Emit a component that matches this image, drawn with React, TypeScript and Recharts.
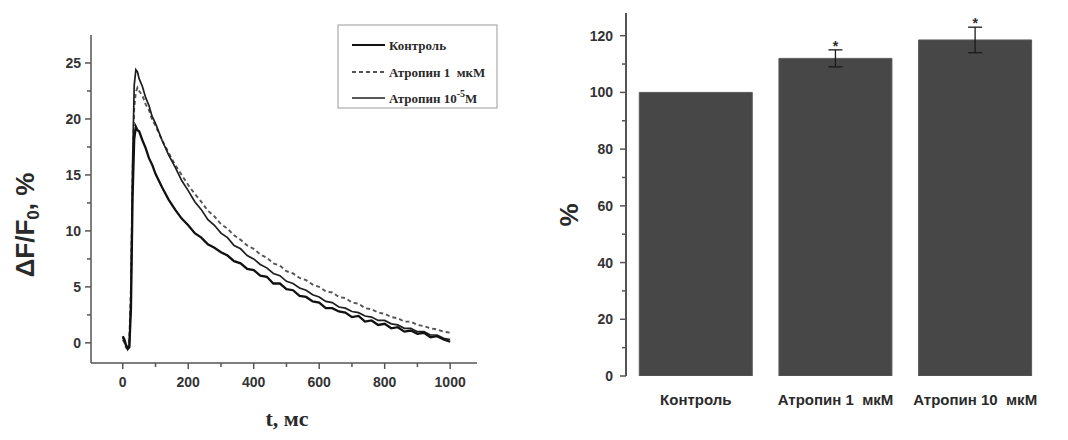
import React from 'react';
import {
  LineChart,
  Line,
  XAxis,
  YAxis,
  ComposedChart,
  Bar,
  ErrorBar,
  Scatter,
} from 'recharts';

// ---- Fluorescence transients, ΔF/F0 (%) vs time (ms) ----
const timeMs = [
  0, 5, 10, 15, 20, 25, 30, 35, 40, 45, 50, 60, 70, 80, 90, 100,
  120, 140, 160, 180, 200, 220, 240, 260, 280, 300, 320, 340, 360, 380, 400,
  420, 440, 460, 480, 500, 520, 540, 560, 580, 600, 620, 640, 660, 680, 700,
  720, 740, 760, 780, 800, 820, 840, 860, 880, 900, 920, 940, 960, 980, 1000,
];

const control = [
  0.6, 0.3, -0.2, -0.5, -0.4, 3.0, 13.0, 18.2, 19.3, 19.0, 18.9, 18.1, 17.4, 16.5, 15.9, 15.1,
  13.9, 12.8, 11.9, 11.1, 10.5, 9.8, 9.4, 8.8, 8.5, 8.1, 7.8, 7.3, 7.1, 6.6, 6.5,
  6.0, 5.9, 5.3, 5.3, 4.8, 4.7, 4.2, 4.1, 3.7, 3.6, 3.1, 3.1, 2.8, 2.7, 2.3,
  2.4, 1.9, 2.0, 1.6, 1.7, 1.3, 1.4, 1.0, 1.1, 0.8, 0.9, 0.5, 0.6, 0.3, 0.1,
];

const atropine1uM = [
  0.3, 0.0, -0.4, -0.3, 0.2, 5.0, 15.0, 21.0, 22.4, 22.8, 22.5, 22.1, 21.3, 20.8, 19.9, 19.4,
  18.1, 17.0, 15.9, 15.0, 14.1, 13.3, 12.6, 11.8, 11.3, 10.6, 10.2, 9.6, 9.2, 8.7, 8.4,
  7.9, 7.6, 7.1, 6.9, 6.4, 6.2, 5.8, 5.6, 5.2, 5.0, 4.6, 4.5, 4.1, 4.0, 3.6,
  3.5, 3.1, 3.0, 2.7, 2.6, 2.3, 2.2, 1.9, 1.9, 1.6, 1.5, 1.3, 1.2, 1.0, 0.9,
];

const atropine10uM = [
  0.5, 0.2, -0.3, -0.6, -0.3, 4.0, 16.0, 23.0, 24.4, 24.2, 23.6, 22.9, 21.9, 21.2, 20.2, 19.6,
  18.1, 16.8, 15.7, 14.5, 13.6, 12.6, 11.9, 11.0, 10.5, 9.8, 9.4, 8.7, 8.4, 7.8, 7.5,
  7.0, 6.7, 6.2, 6.0, 5.5, 5.3, 4.9, 4.7, 4.3, 4.1, 3.7, 3.6, 3.2, 3.1, 2.8,
  2.7, 2.4, 2.3, 2.0, 2.0, 1.7, 1.6, 1.3, 1.3, 1.0, 1.0, 0.7, 0.7, 0.4, 0.3,
];

const timeTicks = [0, 100, 200, 300, 400, 500, 600, 700, 800, 900, 1000];
const dfTicks = [0, 2.5, 5, 7.5, 10, 12.5, 15, 17.5, 20, 22.5, 25];

// ---- Amplitude relative to control (%) ----
const groups = ['Контроль', 'Атропин 1  мкМ', 'Атропин 10  мкМ'];
const percent = [100, 112, 118.5];
const percentErr = [0, 3, 4.5];
const significant = [false, true, true];
const percentTicks = [0, 10, 20, 30, 40, 50, 60, 70, 80, 90, 100, 110, 120];

const traceRows = timeMs.map((t, i) => ({
  t,
  control: control[i],
  a1: atropine1uM[i],
  a10: atropine10uM[i],
}));

const barRows = groups.map((name, i) => ({
  name,
  pct: percent[i],
  err: percentErr[i],
  star: significant[i] ? percent[i] + percentErr[i] : null,
}));

const SANS = 'Arial, "Liberation Sans", sans-serif';
const SERIF = '"Times New Roman", "Liberation Serif", serif';
const AXIS = '#555';
const INK = '#2a2a2a';

const TimeTick = (props: any) => {
  const { x, y, payload } = props;
  const major = payload.value % 200 === 0;
  return (
    <g>
      <line x1={x} x2={x} y1={y} y2={y + (major ? 6 : 4)} stroke={AXIS} strokeWidth={1.5} />
      {major && (
        <text x={x} y={y + 24} textAnchor="middle" fontFamily={SANS} fontWeight="bold" fontSize={14} fill="#333">
          {payload.value}
        </text>
      )}
    </g>
  );
};

const DfTick = (props: any) => {
  const { x, y, payload } = props;
  const major = payload.value % 5 === 0;
  return (
    <g>
      <line x1={x - (major ? 6 : 4)} x2={x} y1={y} y2={y} stroke={AXIS} strokeWidth={1.5} />
      {major && (
        <text x={x - 10} y={y + 5} textAnchor="end" fontFamily={SANS} fontWeight="bold" fontSize={14} fill="#333">
          {payload.value}
        </text>
      )}
    </g>
  );
};

const PercentTick = (props: any) => {
  const { x, y, payload } = props;
  const major = payload.value % 20 === 0;
  return (
    <g>
      <line x1={x - (major ? 6 : 4)} x2={x} y1={y} y2={y} stroke={AXIS} strokeWidth={1.5} />
      {major && (
        <text x={x - 13} y={y + 5} textAnchor="end" fontFamily={SANS} fontWeight="bold" fontSize={14} fill="#333">
          {payload.value}
        </text>
      )}
    </g>
  );
};

const GroupTick = (props: any) => {
  const { x, y, payload } = props;
  return (
    <text x={x} y={y + 29} textAnchor="middle" fontFamily={SANS} fontWeight="bold" fontSize={15} fill={INK} style={{ whiteSpace: 'pre' }}>
      {payload.value}
    </text>
  );
};

const Star = (props: any) => {
  const { cx, cy, payload } = props;
  if (payload == null || payload.star == null || cy == null) return <g />;
  return (
    <text x={cx} y={cy + 1} textAnchor="middle" fontFamily={SANS} fontWeight="bold" fontSize={14} fill={INK}>
      *
    </text>
  );
};

export default function App() {
  return (
    <div style={{ position: 'absolute', left: 0, top: 0, width: 1068, height: 440, background: '#fff' }}>
      <div style={{ position: 'absolute', left: 0, top: 0 }}>
        <LineChart
          width={520}
          height={440}
          data={traceRows}
          margin={{ top: 35, right: 43, bottom: 47, left: 41 }}
        >
          <XAxis
            type="number"
            dataKey="t"
            domain={[-97, 1082]}
            ticks={timeTicks}
            allowDataOverflow
            height={30}
            tickSize={0}
            tickMargin={0}
            tickLine={false}
            axisLine={{ stroke: AXIS, strokeWidth: 1.5 }}
            tick={<TimeTick />}
            interval={0}
          />
          <YAxis
            type="number"
            domain={[-1.8, 27.5]}
            ticks={dfTicks}
            allowDataOverflow
            width={50}
            tickSize={0}
            tickMargin={0}
            tickLine={false}
            axisLine={{ stroke: AXIS, strokeWidth: 1.5 }}
            tick={<DfTick />}
            interval={0}
          />
          <Line
            type="linear"
            dataKey="a1"
            stroke="#555"
            strokeWidth={1.9}
            strokeDasharray="4 3"
            dot={false}
            isAnimationActive={false}
          />
          <Line
            type="linear"
            dataKey="a10"
            stroke="#1e1e1e"
            strokeWidth={1.7}
            dot={false}
            isAnimationActive={false}
          />
          <Line
            type="linear"
            dataKey="control"
            stroke="#111"
            strokeWidth={2.3}
            dot={false}
            isAnimationActive={false}
          />
        </LineChart>
      </div>

      <div style={{ position: 'absolute', left: 540, top: 0 }}>
        <ComposedChart
          width={528}
          height={440}
          data={barRows}
          margin={{ top: 13, right: 23, bottom: 34, left: 36 }}
          barCategoryGap="9.5%"
        >
          <XAxis
            type="category"
            dataKey="name"
            height={30}
            axisLine={false}
            tickLine={false}
            tickSize={0}
            tickMargin={0}
            tick={<GroupTick />}
            interval={0}
          />
          <YAxis
            type="number"
            domain={[0, 128]}
            ticks={percentTicks}
            allowDataOverflow
            width={50}
            tickSize={0}
            tickMargin={0}
            tickLine={false}
            axisLine={{ stroke: AXIS, strokeWidth: 2 }}
            tick={<PercentTick />}
            interval={0}
          />
          <Bar dataKey="pct" fill="#474747" stroke="#5a5a5a" strokeWidth={1} isAnimationActive={false}>
            <ErrorBar dataKey="err" width={7} stroke="#1a1a1a" strokeWidth={1.3} />
          </Bar>
          <Scatter dataKey="star" shape={<Star />} isAnimationActive={false} />
        </ComposedChart>
      </div>

      <svg
        width={1068}
        height={440}
        style={{ position: 'absolute', left: 0, top: 0, pointerEvents: 'none' }}
      >
        {/* left axis titles */}
        <text
          transform="translate(34,225) rotate(-90)"
          textAnchor="middle"
          fontFamily={SANS}
          fontWeight="bold"
          fontSize={26}
          fill={INK}
        >
          ΔF/F
          <tspan fontSize={17} dy={5}>0</tspan>
          <tspan dy={-5}>, %</tspan>
        </text>
        <text x={287} y={426} textAnchor="middle" fontFamily={SERIF} fontWeight="bold" fontSize={22} fill={INK}>
          t, мс
        </text>

        {/* right axis title */}
        <text
          transform="translate(578,215) rotate(-90)"
          textAnchor="middle"
          fontFamily={SANS}
          fontWeight="bold"
          fontSize={26}
          fill={INK}
        >
          %
        </text>

        {/* legend of the traces */}
        <rect x={338} y={25} width={159} height={83} fill="#fff" stroke="#9a9a9a" strokeWidth={1} />
        <line x1={352} x2={385} y1={45} y2={45} stroke="#111" strokeWidth={2.2} />
        <text x={389} y={49.5} fontFamily={SERIF} fontWeight="bold" fontSize={13} fill={INK}>
          Контроль
        </text>
        <line x1={352} x2={385} y1={72} y2={72} stroke="#555" strokeWidth={1.8} strokeDasharray="4 3" />
        <text x={389} y={76.5} fontFamily={SERIF} fontWeight="bold" fontSize={13} fill={INK} style={{ whiteSpace: 'pre' }}>
          Атропин 1  мкМ
        </text>
        <line x1={352} x2={385} y1={98} y2={98} stroke="#1e1e1e" strokeWidth={1.6} />
        <text x={389} y={102.5} fontFamily={SERIF} fontWeight="bold" fontSize={13} fill={INK}>
          Атропин 10
          <tspan fontSize={10} dy={-6}>-5</tspan>
          <tspan dy={6}>М</tspan>
        </text>
      </svg>
    </div>
  );
}
